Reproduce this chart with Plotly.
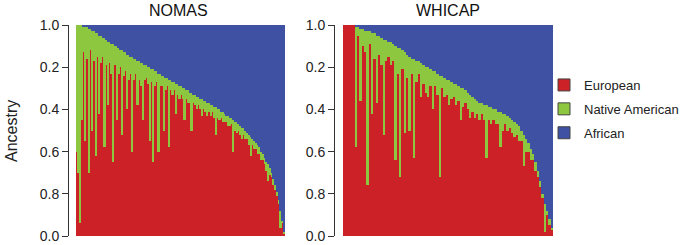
import plotly.graph_objects as go

# ---------------- data (ancestry proportions, one bar per individual) ----------------
panel_titles = ["NOMAS", "WHICAP"]
components = ["European", "Native American", "African"]
colors = {"European": "#CD2128", "Native American": "#8DC63F", "African": "#3F51A2"}

tick_vals = [0.0, 0.2, 0.4, 0.6, 0.8, 1.0]
tick_text = ["0.0", "0.8", "0.6", "0.4", "0.2", "1.0"]

nomas_eur = [.40, .30, .06, .55, .87, .45, .84, .30, .88, .50,
             .83, .38, .85, .58, .82, .85, .42, .81, .62, .82,
             .77, .35, .81, .55, .77, .80, .48, .76, .78, .60,
             .74, .77, .40, .74, .77, .62, .74, .71, .55, .74,
             .75, .72, .45, .73, .35, .71, .73, .40, .71, .71,
             .50, .69, .71, .42, .69, .67, .69, .58, .67, .65,
             .67, .65, .55, .65, .63, .63, .50, .63, .62, .60,
             .62, .60, .57, .60, .59, .57, .59, .57, .59, .56,
             .48, .56, .55, .56, .54, .54, .54, .52, .52, .53,
             .40, .50, .49, .50, .48, .46, .48, .46, .46, .43,
             .38, .43, .41, .41, .39, .39, .36, .36, .34, .31,
             .26, .29, .28, .24, .22, .19, .15, .04, .06, .01]
nomas_nat = [.60, .70, .94, .45, .12, .54, .15, .68, .10, .47,
             .14, .58, .11, .37, .13, .09, .52, .12, .30, .10,
             .14, .56, .09, .35, .12, .08, .40, .11, .09, .26,
             .12, .08, .45, .10, .07, .21, .09, .11, .27, .07,
             .06, .08, .35, .06, .44, .07, .05, .37, .06, .05,
             .26, .06, .04, .32, .05, .06, .04, .14, .05, .06,
             .04, .05, .15, .04, .06, .05, .18, .04, .05, .06,
             .04, .05, .08, .04, .05, .06, .04, .05, .03, .05,
             .13, .04, .05, .03, .05, .04, .03, .05, .04, .03,
             .15, .04, .05, .03, .04, .05, .03, .04, .03, .05,
             .09, .03, .04, .03, .04, .03, .04, .03, .03, .04,
             .08, .03, .02, .03, .02, .02, .02, .08, .01, .01]
nomas_afr = [0, 0, 0, 0, .01, .01, .01, .02, .02, .03,
             .03, .04, .04, .05, .05, .06, .06, .07, .08, .08,
             .09, .09, .10, .10, .11, .12, .12, .13, .13, .14,
             .14, .15, .15, .16, .16, .17, .17, .18, .18, .19,
             .19, .20, .20, .21, .21, .22, .22, .23, .23, .24,
             .24, .25, .25, .26, .26, .27, .27, .28, .28, .29,
             .29, .30, .30, .31, .31, .32, .32, .33, .33, .34,
             .34, .35, .35, .36, .36, .37, .37, .38, .38, .39,
             .39, .40, .40, .41, .41, .42, .43, .43, .44, .44,
             .45, .46, .46, .47, .48, .49, .49, .50, .51, .52,
             .53, .54, .55, .56, .57, .58, .60, .61, .63, .65,
             .66, .68, .70, .73, .76, .79, .83, .88, .93, .98]

whicap_eur = [1, 1, 1, 1, 1, .42, .95, .64, .90, .87,
              .24, .91, .58, .84, .63, .86, .81, .48, .83, .85,
              .81, .83, .36, .77, .28, .79, .49, .75, .50, .77,
              .37, .73, .77, .66, .72, .68, .66, .71, .60, .71,
              .67, .28, .70, .66, .67, .62, .65, .66, .62, .64,
              .55, .61, .63, .60, .56, .59, .56, .58, .55, .58,
              .55, .37, .55, .53, .55, .53, .53, .42, .50, .53,
              .50, .51, .49, .47, .48, .45, .45, .33, .40, .40,
              .36, .36, .31, .28, .23, .18, .02, .10, .05, .03]
whicap_nat = [0, 0, 0, 0, 0, .57, .04, .34, .08, .10,
              .73, .06, .38, .12, .32, .09, .13, .45, .10, .07,
              .11, .08, .54, .12, .61, .09, .38, .11, .35, .07,
              .47, .10, .06, .16, .09, .12, .14, .08, .18, .07,
              .10, .48, .06, .09, .07, .12, .08, .06, .10, .07,
              .15, .09, .06, .08, .11, .07, .09, .06, .08, .05,
              .07, .25, .06, .08, .05, .07, .06, .17, .08, .05,
              .07, .05, .06, .07, .05, .07, .05, .15, .06, .04,
              .05, .03, .04, .03, .03, .02, .13, .02, .03, .01]
whicap_afr = [0, 0, 0, 0, 0, .01, .01, .02, .02, .03,
              .03, .03, .04, .04, .05, .05, .06, .07, .07, .08,
              .08, .09, .10, .11, .11, .12, .13, .14, .15, .16,
              .16, .17, .17, .18, .19, .20, .20, .21, .22, .22,
              .23, .24, .24, .25, .26, .26, .27, .28, .28, .29,
              .30, .30, .31, .32, .33, .34, .35, .36, .37, .37,
              .38, .38, .39, .39, .40, .40, .41, .41, .42, .42,
              .43, .44, .45, .46, .47, .48, .50, .52, .54, .56,
              .59, .61, .65, .69, .74, .80, .85, .88, .92, .96]

panels = [
    {"European": nomas_eur, "Native American": nomas_nat, "African": nomas_afr},
    {"European": whicap_eur, "Native American": whicap_nat, "African": whicap_afr},
]

# ---------------- figure ----------------
W, H = 682, 245


def px(x):
    return x / W


def py(y):
    return (H - y) / H


FONT = "Liberation Sans, Arial, sans-serif"
fig = go.Figure()

for p, data in enumerate(panels):
    xa = "x" if p == 0 else "x2"
    ya = "y" if p == 0 else "y2"
    n = len(data["European"])
    idx = list(range(n))
    for comp in components:
        fig.add_trace(go.Bar(
            x=idx, y=data[comp], xaxis=xa, yaxis=ya, name=comp,
            marker=dict(color=colors[comp], line=dict(width=0)),
            showlegend=False, hoverinfo="skip"))

# legend-only entries
for comp in components:
    fig.add_trace(go.Bar(
        x=[None], y=[None], name=comp, legendgroup=comp,
        marker=dict(color=colors[comp], line=dict(color="#444", width=1)),
        showlegend=True))

ydom = [py(236), py(25)]
common_y = dict(range=[0, 1], domain=ydom, anchor="free", showline=True,
                linecolor="#333", linewidth=1, ticks="outside", ticklen=6,
                tickcolor="#333", tickvals=tick_vals, ticktext=tick_text,
                showgrid=False, zeroline=False,
                tickfont=dict(family=FONT, size=14, color="#222"))

fig.update_layout(
    width=W, height=H,
    margin=dict(l=0, r=0, t=0, b=0, autoexpand=False),
    paper_bgcolor="white", plot_bgcolor=colors["African"],
    barmode="stack", bargap=0,
    font=dict(family=FONT, color="#222"),
    xaxis=dict(domain=[px(76), px(285)], range=[-0.5, len(nomas_eur) - 0.5],
               visible=False, anchor="y"),
    xaxis2=dict(domain=[px(343), px(553)], range=[-0.5, len(whicap_eur) - 0.5],
                visible=False, anchor="y2"),
    yaxis=dict(position=px(68), **common_y),
    yaxis2=dict(position=px(334), **common_y),
    legend=dict(x=px(544), y=py(70), xanchor="left", yanchor="top",
                traceorder="grouped", tracegroupgap=4,
                font=dict(family=FONT, size=13, color="#222"),
                bgcolor="rgba(0,0,0,0)", itemwidth=30),
    annotations=[
        dict(text=panel_titles[0], x=px(178), y=py(10), xref="paper", yref="paper",
             xanchor="center", yanchor="middle",
             showarrow=False, font=dict(family=FONT, size=16, color="#111")),
        dict(text=panel_titles[1], x=px(448), y=py(10), xref="paper", yref="paper",
             xanchor="center", yanchor="middle",
             showarrow=False, font=dict(family=FONT, size=16, color="#111")),
        dict(text="Ancestry", x=px(11), y=py(131), xref="paper", yref="paper",
             xanchor="center", yanchor="middle",
             textangle=-90, showarrow=False,
             font=dict(family=FONT, size=16, color="#222")),
    ],
)

# remove the browser's default 8px body margin so the figure sits at the page origin
fig.write_html("out.html", config={"displayModeBar": False},
               post_script="document.body.style.margin='0';")
